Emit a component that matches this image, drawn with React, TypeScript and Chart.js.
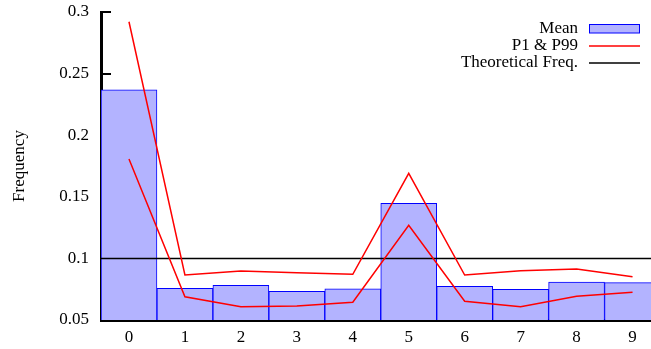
import React, { useEffect, useRef } from "react";
import { Chart, registerables } from "chart.js";

Chart.register(...registerables);

const categories = [0, 1, 2, 3, 4, 5, 6, 7, 8, 9];
const meanValues = [0.2369, 0.0757, 0.0782, 0.0733, 0.0754, 0.1447, 0.0773, 0.0749, 0.0808, 0.0803];
const p99Values = [0.2921, 0.0866, 0.0898, 0.0884, 0.0871, 0.169, 0.0865, 0.09, 0.0914, 0.0852];
const p1Values = [0.1807, 0.0689, 0.0608, 0.0614, 0.0644, 0.1268, 0.0652, 0.0608, 0.0692, 0.0725];
const theoreticalFreq = 0.1;
const yTicks = [0.05, 0.1, 0.15, 0.2, 0.25, 0.3];
const xMin = -0.5;
const xMax = 9.33;
const legendLabels = ["Mean", "P1 & P99", "Theoretical Freq."];

const FONT = "'Liberation Serif', 'Times New Roman', serif";
Chart.defaults.font.family = FONT;
Chart.defaults.font.size = 17;
Chart.defaults.color = "#000";

export default function App() {
  const ref = useRef<HTMLCanvasElement | null>(null);
  useEffect(() => {
    if (!ref.current) return;
    const innerTicks = {
      id: "innerTicks",
      beforeDatasetsDraw(chart: any) {
        const { ctx, chartArea, scales } = chart;
        ctx.save();
        ctx.strokeStyle = "#000";
        ctx.lineWidth = 2;
        yTicks.forEach((v) => {
          const y = Math.round(scales.y.getPixelForValue(v));
          ctx.beginPath();
          ctx.moveTo(chartArea.left, y);
          ctx.lineTo(chartArea.left + 10, y);
          ctx.stroke();
        });
        ctx.restore();
      },
    };
    const customLegend = {
      id: "customLegend",
      afterDraw(chart: any) {
        const { ctx } = chart;
        ctx.save();
        ctx.font = `17px ${FONT}`;
        ctx.fillStyle = "#000";
        ctx.textAlign = "right";
        ctx.textBaseline = "middle";
        const textX = 578;
        const sx0 = 589;
        const sx1 = 640;
        const rows = [29, 46, 63];
        legendLabels.forEach((t, i) => ctx.fillText(t, textX, rows[i]));
        ctx.fillStyle = "#b3b3ff";
        ctx.fillRect(sx0, 24.5, sx1 - sx0, 8.5);
        ctx.strokeStyle = "#0000ff";
        ctx.lineWidth = 1;
        ctx.strokeRect(sx0 + 0.5, 24.5, sx1 - sx0 - 1, 8.5);
        ctx.lineWidth = 1.5;
        ctx.strokeStyle = "#ff0000";
        ctx.beginPath();
        ctx.moveTo(sx0, rows[1]);
        ctx.lineTo(sx1, rows[1]);
        ctx.stroke();
        ctx.strokeStyle = "#000";
        ctx.beginPath();
        ctx.moveTo(sx0, rows[2]);
        ctx.lineTo(sx1, rows[2]);
        ctx.stroke();
        ctx.restore();
      },
    };
    const tickFont = { family: FONT, size: 17 };
    const chart = new Chart(ref.current, {
      type: "bar",
      data: {
        datasets: [
          {
            type: "line",
            label: "P99",
            data: categories.map((c, i) => ({ x: c, y: p99Values[i] })),
            borderColor: "#ff0000",
            borderWidth: 1.5,
            pointRadius: 0,
            fill: false,
            order: 1,
          },
          {
            type: "line",
            label: "P1",
            data: categories.map((c, i) => ({ x: c, y: p1Values[i] })),
            borderColor: "#ff0000",
            borderWidth: 1.5,
            pointRadius: 0,
            fill: false,
            order: 1,
          },
          {
            type: "line",
            label: "Theoretical Freq.",
            data: [
              { x: xMin, y: theoreticalFreq },
              { x: xMax, y: theoreticalFreq },
            ],
            borderColor: "#000000",
            borderWidth: 1.5,
            pointRadius: 0,
            fill: false,
            order: 2,
          },
          {
            type: "bar",
            label: "Mean",
            data: categories.map((c, i) => ({ x: c, y: meanValues[i] })),
            backgroundColor: "#b3b3ff",
            borderColor: "#0000ff",
            borderWidth: 1,
            barPercentage: 1,
            categoryPercentage: 1,
            order: 3,
          } as any,
        ],
      },
      options: {
        animation: false,
        responsive: false,
        maintainAspectRatio: false,
        layout: { padding: { top: 12, right: 0, left: 0, bottom: 0 } },
        plugins: { legend: { display: false }, tooltip: { enabled: false } },
        scales: {
          x: {
            type: "linear",
            offset: false,
            min: xMin,
            max: xMax,
            grid: { display: false, drawTicks: false, offset: false },
            border: { display: true, color: "#000", width: 3 },
            ticks: { color: "#000", font: tickFont, padding: 7, callback: (v: any) => String(v) },
            afterBuildTicks: (axis: any) => {
              axis.ticks = categories.map((v) => ({ value: v }));
            },
            afterFit: (axis: any) => {
              axis.height = 29;
              axis.paddingLeft = 0;
              axis.paddingRight = 0;
            },
          },
          y: {
            type: "linear",
            min: 0.05,
            max: 0.3,
            grid: { display: false, drawTicks: false },
            border: { display: true, color: "#000", width: 3 },
            ticks: { color: "#000", font: tickFont, padding: 12, callback: (v: any) => String(v) },
            afterBuildTicks: (axis: any) => {
              axis.ticks = yTicks.map((v) => ({ value: v }));
            },
            afterFit: (axis: any) => {
              axis.width = 101;
              axis.paddingTop = 0;
              axis.paddingBottom = 0;
            },
            title: {
              display: true,
              text: "Frequency",
              color: "#000",
              font: { family: FONT, size: 17 },
              padding: { top: 9, bottom: 0 },
            },
          },
        },
      },
      plugins: [innerTicks, customLegend],
    } as any);
    return () => chart.destroy();
  }, []);
  return (
    <div style={{ position: "fixed", left: 0, top: 0, width: 651, height: 349, background: "#fff" }}>
      <canvas ref={ref} width={651} height={349} style={{ width: 651, height: 349, display: "block" }} />
    </div>
  );
}
